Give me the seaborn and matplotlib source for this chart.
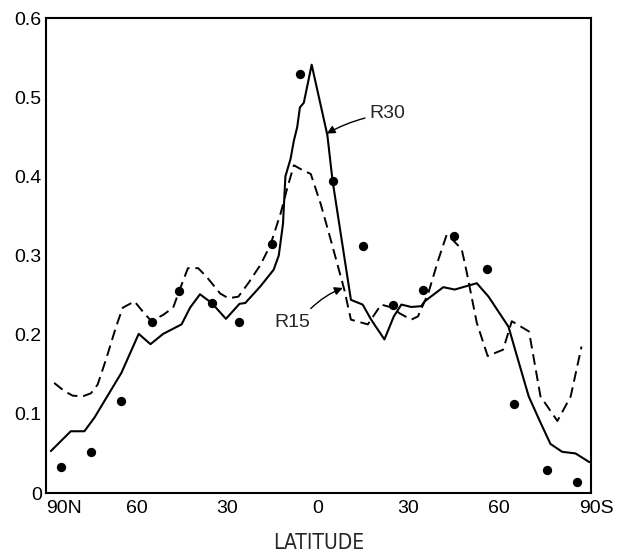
import matplotlib
matplotlib.use("Agg")
import matplotlib.pyplot as plt
import matplotlib.transforms as mtransforms
import seaborn as sns
import pandas as pd

# ---- data ----
r30_lat = [-88.4, -81.8, -77.3, -74.0, -65.0, -59.3, -55.4, -51.2, -45.1, -42.3,
           -39.0, -35.1, -30.4, -25.9, -24.0, -19.0, -14.6, -12.9, -11.5, -10.7,
           -9.0, -7.9, -6.8, -5.9, -4.6, -2.0, 3.2, 4.9, 11.0, 14.9,
           17.7, 22.1, 25.2, 27.7, 31.0, 34.3, 35.4, 41.6, 45.4, 49.9,
           52.7, 56.6, 63.2, 66.0, 69.9, 73.8, 77.1, 81.0, 85.4, 90.0]
r30_val = [0.053, 0.078, 0.078, 0.095, 0.152, 0.201, 0.188, 0.201, 0.213, 0.234,
           0.251, 0.240, 0.220, 0.239, 0.240, 0.261, 0.282, 0.300, 0.340, 0.400,
           0.422, 0.445, 0.462, 0.487, 0.493, 0.541, 0.452, 0.395, 0.244, 0.238,
           0.219, 0.194, 0.223, 0.238, 0.235, 0.236, 0.242, 0.260, 0.257, 0.262,
           0.265, 0.248, 0.210, 0.173, 0.122, 0.089, 0.062, 0.052, 0.050, 0.039]

r15_lat = [-87.3, -84.0, -81.2, -77.9, -75.1, -72.9, -70.1, -66.8, -64.6, -60.7,
           -57.9, -55.1, -51.2, -47.9, -45.7, -43.0, -39.6, -36.8, -32.3, -29.6,
           -26.3, -23.0, -19.0, -15.7, -12.3, -10.1, -7.9, -5.1, -2.3, 1.0,
           4.3, 8.8, 11.0, 16.6, 21.0, 24.9, 27.1, 31.0, 33.2, 36.6,
           39.9, 42.7, 44.9, 47.7, 49.3, 52.7, 56.3, 61.4, 64.3, 70.0,
           73.8, 79.4, 83.8, 87.4]
r15_val = [0.139, 0.129, 0.123, 0.122, 0.126, 0.137, 0.169, 0.210, 0.234, 0.242,
           0.229, 0.217, 0.225, 0.234, 0.257, 0.284, 0.284, 0.273, 0.252, 0.246,
           0.248, 0.265, 0.288, 0.313, 0.353, 0.385, 0.414, 0.408, 0.403, 0.365,
           0.320, 0.257, 0.219, 0.213, 0.238, 0.234, 0.227, 0.219, 0.223, 0.252,
           0.294, 0.326, 0.319, 0.308, 0.280, 0.215, 0.173, 0.181, 0.217, 0.204,
           0.122, 0.091, 0.122, 0.185]

obs_lat = [-85, -75, -65, -55, -46, -35, -26, -15, -6, 5,
           15, 25, 35, 45, 56, 65, 76, 86]
obs_val = [0.033, 0.052, 0.116, 0.216, 0.255, 0.240, 0.216, 0.314, 0.529, 0.394,
           0.312, 0.237, 0.256, 0.325, 0.283, 0.113, 0.029, 0.014]

x_ticks = [-90, -60, -30, 0, 30, 60, 90]
x_ticklabels = ["90N", "60", "30", "0", "30", "60", "90S"]
y_ticks = [0, 0.1, 0.2, 0.3, 0.4, 0.5, 0.6]
y_ticklabels = ["0", "0.1", "0.2", "0.3", "0.4", "0.5", "0.6"]

df30 = pd.DataFrame({"lat": r30_lat, "val": r30_val})
df15 = pd.DataFrame({"lat": r15_lat, "val": r15_val})
dfobs = pd.DataFrame({"lat": obs_lat, "val": obs_val})

sns.set_style("white")
plt.rcParams["font.family"] = ["Liberation Sans", "DejaVu Sans"]

fig = plt.figure(figsize=(6.22, 5.54), dpi=100)
ax = fig.add_axes([0.074, 0.1101, 0.876, 0.8574])

sns.lineplot(data=df30, x="lat", y="val", ax=ax, color="black", lw=1.5,
             sort=False, estimator=None)
sns.lineplot(data=df15, x="lat", y="val", ax=ax, color="black", lw=1.4,
             sort=False, estimator=None)
ax.lines[-1].set_dashes((5.5, 3))
sns.scatterplot(data=dfobs, x="lat", y="val", ax=ax, color="black", s=45,
                edgecolor="black", linewidth=0, zorder=5)

ax.set_xlim(-90, 90.5)
ax.set_ylim(0, 0.6)
ax.set_xticks(x_ticks)
ax.set_xticklabels(x_ticklabels, fontsize=14)
ax.set_yticks(y_ticks)
ax.set_yticklabels(y_ticklabels, fontsize=14)
ax.tick_params(axis="both", direction="in", length=9, width=1.2, color="black",
               pad=5, labelcolor="black")
ax.tick_params(axis="y", pad=3)
for s in ax.spines.values():
    s.set_visible(True)
    s.set_color("black")
    s.set_linewidth(1.5)

# end labels of the latitude axis sit slightly inside / outside like the original
xl = ax.get_xticklabels()
xl[0].set_ha("left")
xl[-1].set_transform(xl[-1].get_transform() +
                     mtransforms.ScaledTranslation(5 / 72, 0, fig.dpi_scale_trans))

ax.set_ylabel("")
ax.set_xlabel("LATITUDE", fontsize=15, family="DejaVu Sans", fontstretch="condensed")
ax.xaxis.set_label_coords(0.501, -0.1255)
ax.xaxis.label.set_va("bottom")

ax.annotate("R30", xy=(3.0, 0.454), xytext=(17.2, 0.479), fontsize=14,
            ha="left", va="center",
            arrowprops=dict(arrowstyle="-|>", color="black", lw=1.0,
                            connectionstyle="arc3,rad=0.1", shrinkA=1, shrinkB=0,
                            mutation_scale=12))
ax.text(-2.6, 0.216, "R15", fontsize=14, ha="right", va="center")
ax.annotate("", xy=(8.3, 0.259), xytext=(-2.3, 0.233),
            arrowprops=dict(arrowstyle="-|>", color="black", lw=1.0,
                            connectionstyle="arc3,rad=-0.1", shrinkA=0, shrinkB=0,
                            mutation_scale=12))

fig.savefig("out.png", dpi=100)
